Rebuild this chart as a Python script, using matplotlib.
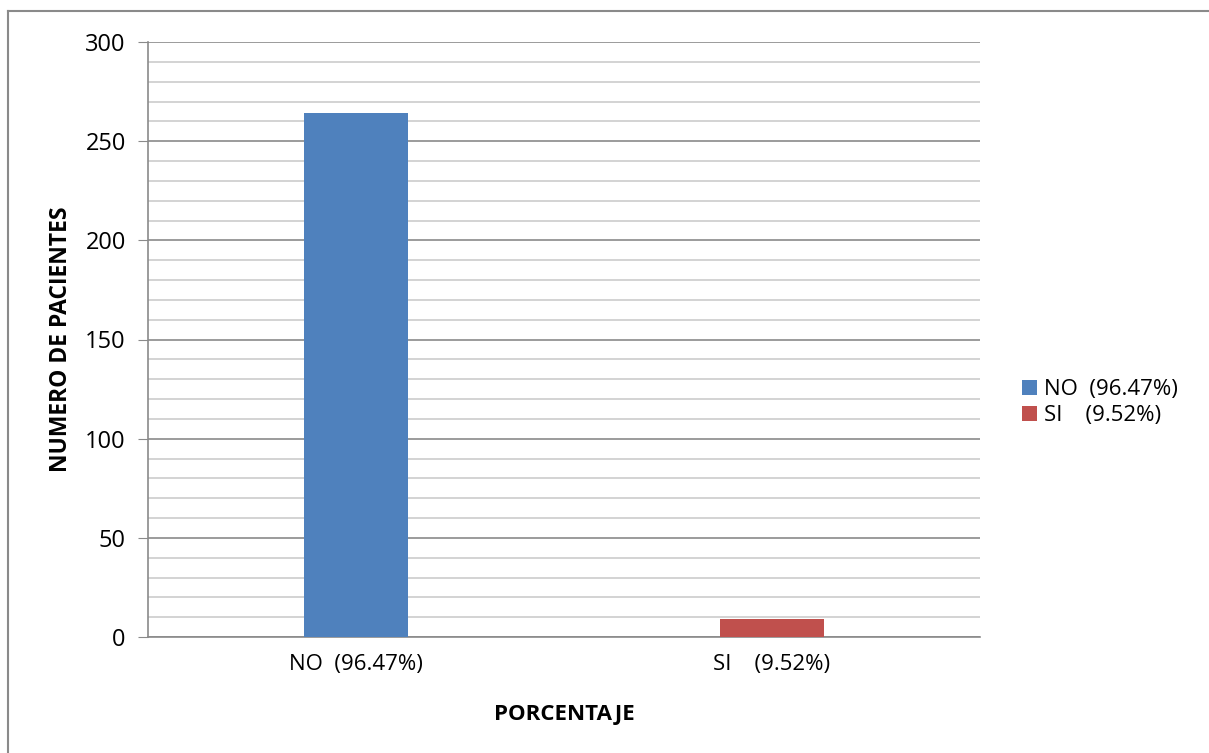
import matplotlib.pyplot as plt
import matplotlib.lines as mlines
from matplotlib.ticker import MultipleLocator

categories = ['NO  (96.47%)', 'SI    (9.52%)']
values = [264, 9]
colors = ['#4f81bd', '#c0504d']

plt.rcParams['font.family'] = ['Open Sans', 'DejaVu Sans']

fig = plt.figure(figsize=(12.09, 7.53), dpi=100)
ax = fig.add_axes([148 / 1209, 1 - 637 / 753, 832 / 1209, 595 / 753])

x = range(len(categories))
bars = ax.bar(x, values, width=0.25, color=colors, zorder=3, label=categories)

ax.set_xlim(-0.5, 1.5)
ax.set_ylim(0, 300)
ax.yaxis.set_major_locator(MultipleLocator(50))
ax.yaxis.set_minor_locator(MultipleLocator(10))
ax.grid(axis='y', which='major', color='#8a8a8a', linewidth=1.2, zorder=0)
ax.grid(axis='y', which='minor', color='#cccccc', linewidth=1.2, zorder=0)

ax.set_xticks(list(x))
ax.set_xticklabels(categories, fontsize=16)
ax.tick_params(axis='x', length=0, pad=12)
ax.tick_params(axis='y', which='major', length=7, color='#8a8a8a', labelsize=17, pad=9)
ax.tick_params(axis='y', which='minor', length=0)

for s in ['top', 'right']:
    ax.spines[s].set_visible(False)
for s in ['left', 'bottom']:
    ax.spines[s].set_color('#8a8a8a')
    ax.spines[s].set_linewidth(1.2)

ax.set_xlabel('PORCENTAJE', fontsize=16, fontweight='bold', labelpad=21)
ax.set_ylabel('NUMERO DE PACIENTES', fontsize=16.5, fontweight='bold', labelpad=9)

ax.legend(bars, categories, loc='center left', bbox_to_anchor=(1.0505, 0.394),
          frameon=False, fontsize=16, handlelength=0.68, handleheight=0.68,
          handletextpad=0.3, labelspacing=0.22, borderpad=0, borderaxespad=0)

# outer chart border (top and left edges visible)
fig.add_artist(mlines.Line2D([8 / 1209, 1], [1 - 11 / 753, 1 - 11 / 753],
                             transform=fig.transFigure, color='#8a8a8a', linewidth=1.5))
fig.add_artist(mlines.Line2D([8 / 1209, 8 / 1209], [0, 1 - 11 / 753],
                             transform=fig.transFigure, color='#8a8a8a', linewidth=1.5))

fig.savefig('out.png', dpi=100)
